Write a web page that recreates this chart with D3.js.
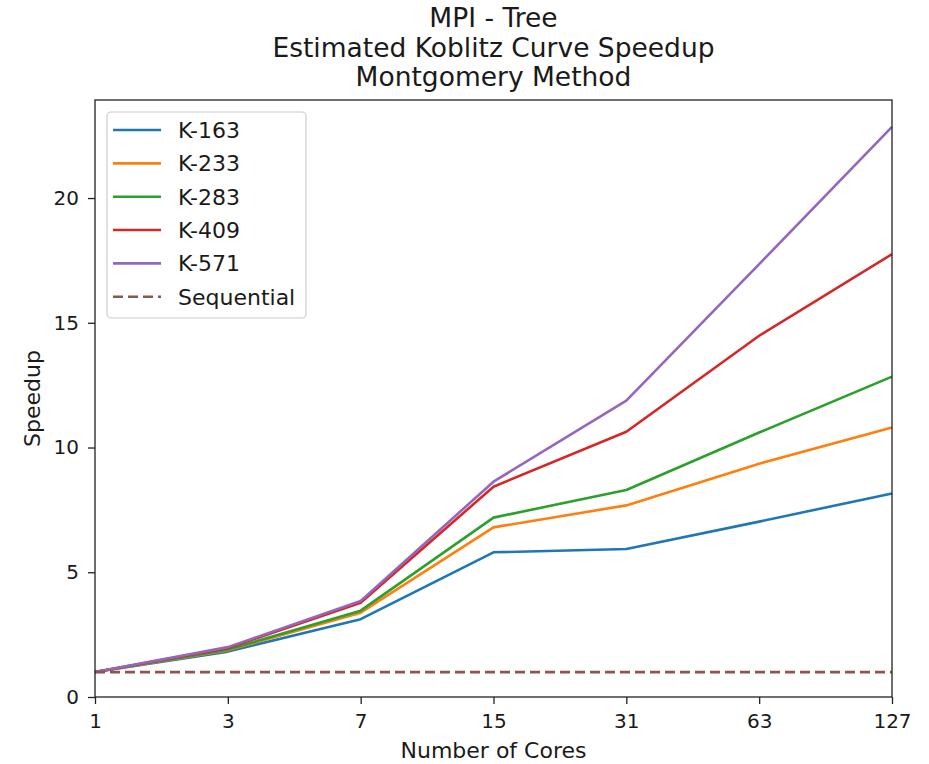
<!DOCTYPE html>
<html><head><meta charset="utf-8">
<script src="https://cdn.jsdelivr.net/npm/d3@7"></script>
<style>body{margin:0;background:#fff}svg{display:block}text{font-family:"DejaVu Sans",sans-serif;fill:#1a1a1a}</style>
</head><body><svg id="c" width="929" height="764"></svg>
<script>
const cores = ["1","3","7","15","31","63","127"];
const seriesNames = ["K-163","K-233","K-283","K-409","K-571"];
const k163 = [1.0, 1.82, 3.12, 5.80, 5.93, 7.03, 8.16];
const k233 = [1.0, 1.87, 3.38, 6.80, 7.68, 9.35, 10.80];
const k283 = [1.0, 1.90, 3.46, 7.19, 8.30, 10.60, 12.84];
const k409 = [1.0, 1.96, 3.78, 8.43, 10.63, 14.48, 17.75];
const k571 = [1.0, 2.00, 3.85, 8.63, 11.88, 17.35, 22.85];
const sequential = [1,1,1,1,1,1,1];
const yTicks = [0,5,10,15,20];
const colors = ["#1f77b4","#ff7f0e","#2ca02c","#d62728","#9467bd"];
const seqColor = "#8c564b";
const titleLines = ["MPI - Tree","Estimated Koblitz Curve Speedup","Montgomery Method"];

const svg = d3.select("#c");
const L=95, R=892, T=100, B=697;
const x = d3.scalePoint().domain(cores).range([L,R]);
const y = d3.scaleLinear().domain([0,23.93]).range([B,T]);

const allSeries = [k163,k233,k283,k409,k571];
const line = d3.line().x((d,i)=>x(cores[i])).y(d=>y(d));

// lines
allSeries.forEach((s,i)=>{
  svg.append("path").attr("d",line(s)).attr("fill","none")
    .attr("stroke",colors[i]).attr("stroke-width",2.6).attr("stroke-linejoin","round");
});
svg.append("path").attr("d",line(sequential)).attr("fill","none")
  .attr("stroke",seqColor).attr("stroke-width",2.7).attr("stroke-dasharray","10,5");

// frame
svg.append("rect").attr("x",L).attr("y",T).attr("width",R-L).attr("height",B-T)
  .attr("fill","none").attr("stroke","#222").attr("stroke-width",1.3);

// axes
const xAxis = d3.axisBottom(x).tickSize(7).tickPadding(10);
const gx = svg.append("g").attr("transform",`translate(0,${B})`).call(xAxis);
const yAxis = d3.axisLeft(y).tickValues(yTicks).tickSize(7).tickPadding(9);
const gy = svg.append("g").attr("transform",`translate(${L},0)`).call(yAxis);
[gx,gy].forEach(g=>{
  g.select(".domain").remove();
  g.selectAll(".tick line").attr("stroke","#222").attr("stroke-width",1.3);
  g.selectAll(".tick text").attr("font-size",20).attr("fill","#1a1a1a").attr("font-family","DejaVu Sans");
});

// axis labels
svg.append("text").attr("x",(L+R)/2).attr("y",758).attr("text-anchor","middle")
  .attr("font-size",22).text("Number of Cores");
svg.append("text").attr("transform",`translate(40,${(T+B)/2}) rotate(-90)`).attr("text-anchor","middle")
  .attr("font-size",22).text("Speedup");

// title
titleLines.forEach((t,i)=>{
  svg.append("text").attr("x",(L+R)/2).attr("y",27+i*29.5).attr("text-anchor","middle")
    .attr("font-size",26.5).text(t);
});

// legend
const lg = svg.append("g");
lg.append("rect").attr("x",107).attr("y",112).attr("width",199).attr("height",206).attr("rx",4)
  .attr("fill","#fff").attr("fill-opacity",0.8).attr("stroke","#ccc").attr("stroke-width",1.2);
const legendItems = seriesNames.map((n,i)=>({name:n,color:colors[i],dash:null})).concat([{name:"Sequential",color:seqColor,dash:"10,5"}]);
legendItems.forEach((d,i)=>{
  const yy = 130 + i*33.35;
  lg.append("line").attr("x1",113).attr("x2",161).attr("y1",yy).attr("y2",yy)
    .attr("stroke",d.color).attr("stroke-width",2.6).attr("stroke-dasharray",d.dash);
  lg.append("text").attr("x",178).attr("y",yy+8).attr("font-size",22).text(d.name);
});
</script></body></html>
